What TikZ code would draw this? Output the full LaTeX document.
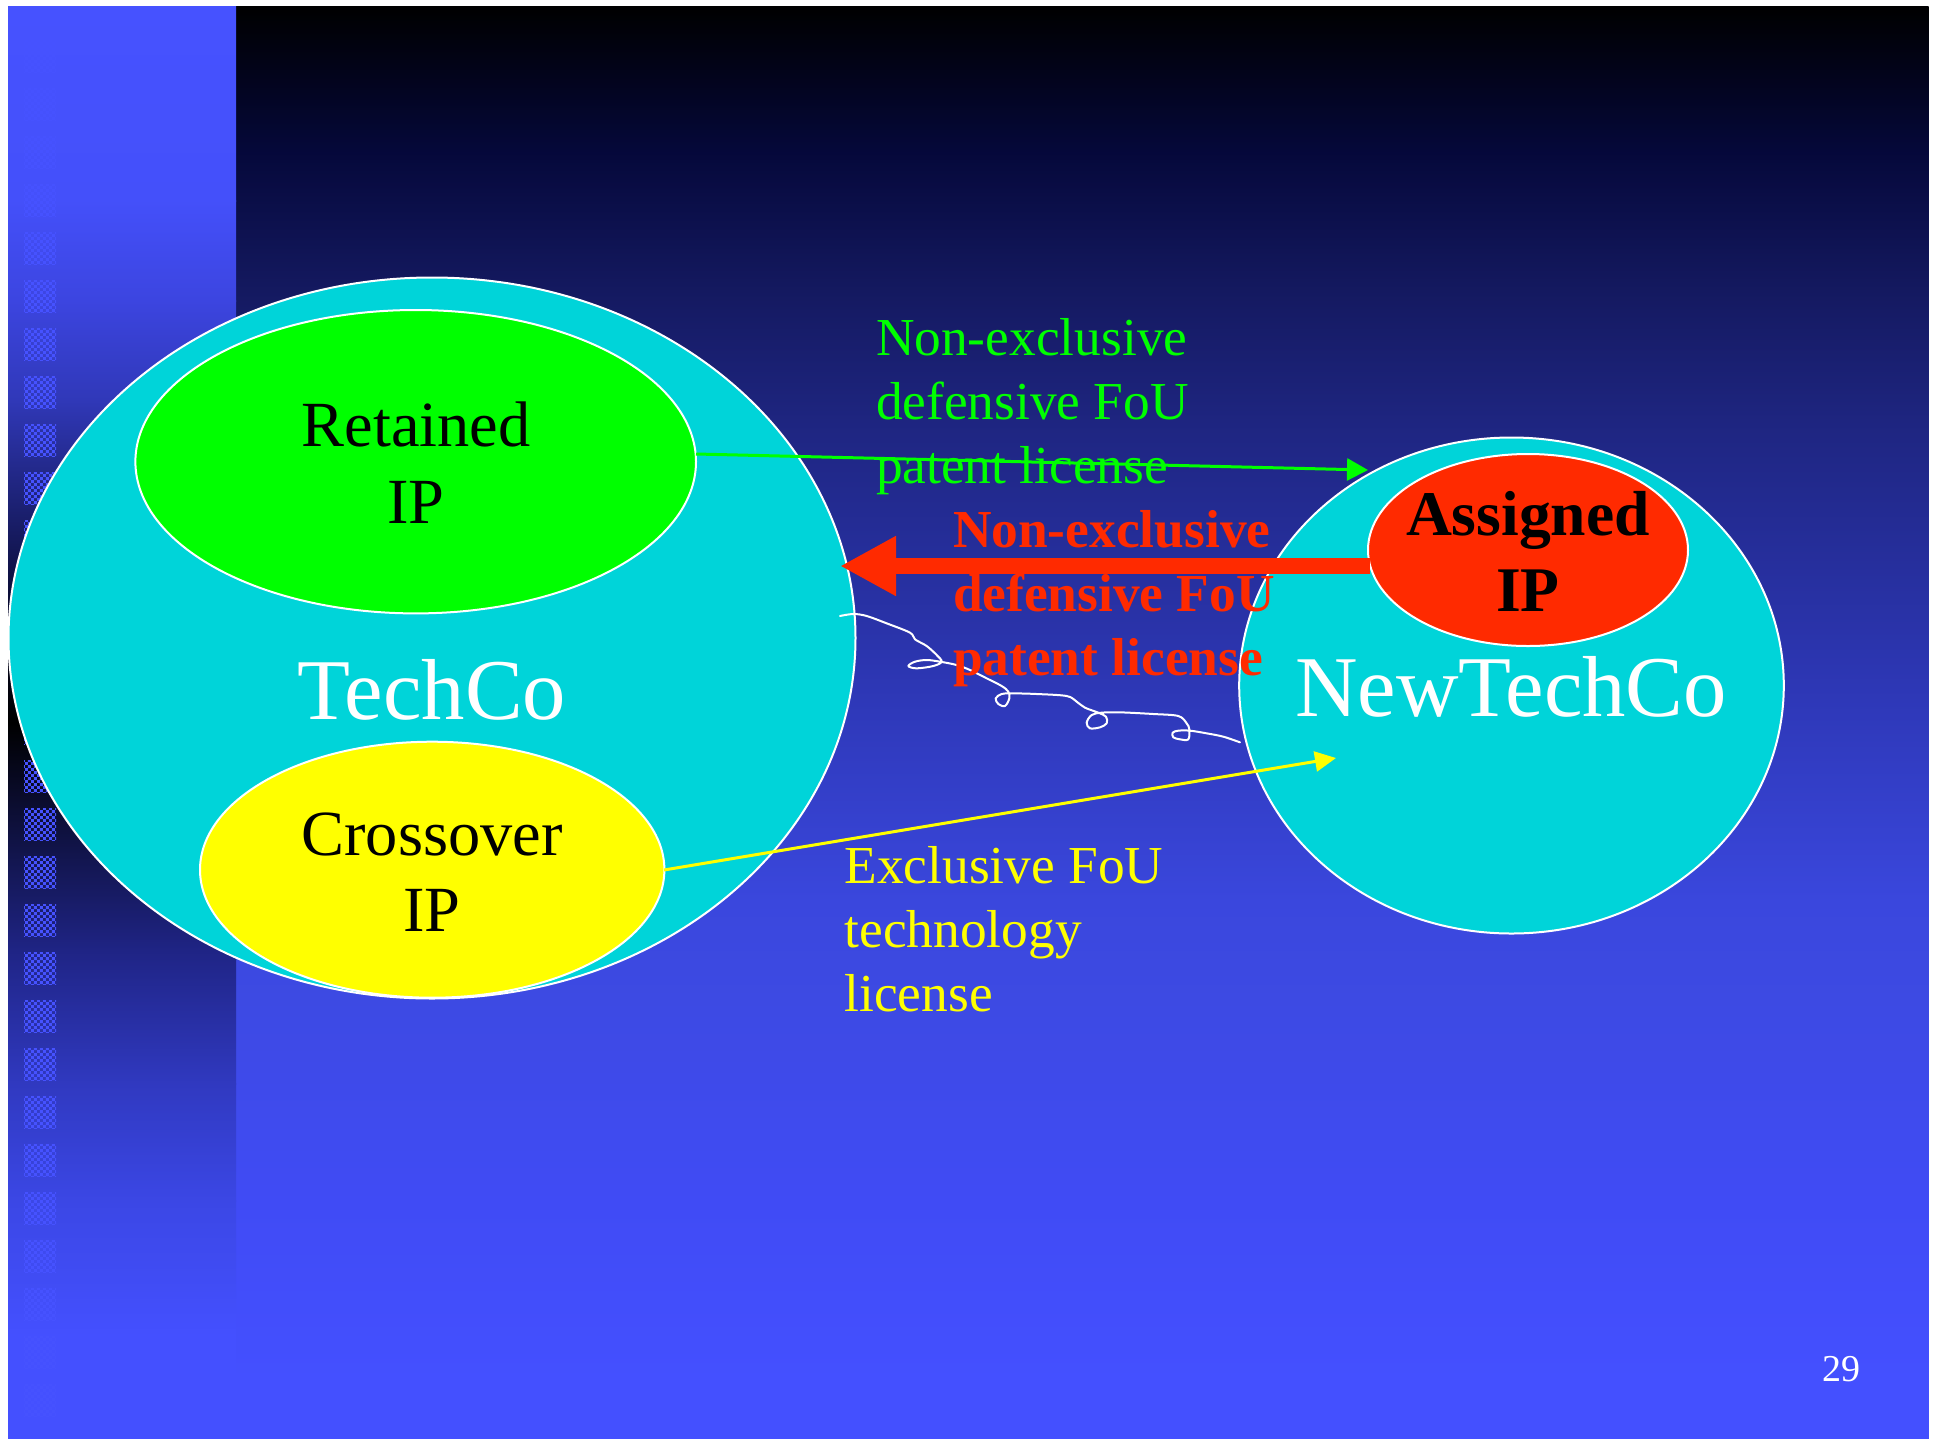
\documentclass[tikz,border=0pt]{standalone}
\usepackage{fontspec}
\setmainfont{Liberation Serif}
\usetikzlibrary{shapes.geometric,arrows.meta,patterns.meta}
\definecolor{cyanE}{HTML}{00D4D9}
\definecolor{grnE}{HTML}{00FF00}
\definecolor{ylwE}{HTML}{FFFF00}
\definecolor{redE}{HTML}{FF2A00}
\definecolor{chkc}{HTML}{4652FF}
% main background stops
\definecolor{m0}{HTML}{000000}
\definecolor{m1}{HTML}{05083A}
\definecolor{m2}{HTML}{141960}
\definecolor{m3}{HTML}{1E2580}
\definecolor{m4}{HTML}{2E38B8}
\definecolor{m5}{HTML}{3A47DD}
\definecolor{m6}{HTML}{3D4AE3}
\definecolor{m7}{HTML}{404BF5}
\definecolor{m8}{HTML}{4450FF}
% strip stops
\definecolor{s0}{HTML}{4652FF}
\definecolor{s1}{HTML}{4450FA}
\definecolor{s2}{HTML}{3C45E0}
\definecolor{s3}{HTML}{3038B8}
\definecolor{s4}{HTML}{0A0C34}
\definecolor{s5}{HTML}{000000}
\definecolor{s6}{HTML}{1F2485}
\definecolor{s7}{HTML}{3039C0}
\definecolor{s8}{HTML}{3B47E5}
\definecolor{s9}{HTML}{4450FF}
\tikzdeclarepattern{
  name=chk,
  type=uncolored,
  bottom left={(0pt,0pt)},
  top right={(3.2pt,3.2pt)},
  tile size={(3.2pt,3.2pt)},
  code={
    \fill (0pt,0pt) rectangle (1.6pt,1.6pt);
    \fill (1.6pt,1.6pt) rectangle (3.2pt,3.2pt);
  }
}
\tikzset{
  blob/.style={ellipse, draw=white, line width=1pt, inner sep=0pt, outer sep=0pt},
  lbl/.style={anchor=base, inner sep=0pt, outer sep=0pt},
  lblw/.style={anchor=base west, inner sep=0pt, outer sep=0pt},
  ipfont/.style={font=\fontsize{32.2}{38}\selectfont},
  ipbold/.style={font=\fontsize{31.8}{38}\selectfont\bfseries},
  bigfont/.style={font=\fontsize{43.3}{50}\selectfont},
  smfont/.style={font=\fontsize{26.7}{32}\selectfont},
  smbold/.style={font=\fontsize{26.7}{32}\selectfont\bfseries},
}
\begin{document}
\begin{tikzpicture}[x=0.5pt,y=-0.5pt]
\useasboundingbox (0,0) rectangle (1933,1441);
\fill[white] (0,0) rectangle (1933,1441);
% main background gradient
\foreach \ya/\yb/\ca/\cb in {6/151/m0/m1,150/291/m1/m2,290/421/m2/m3,420/701/m3/m4,700/901/m4/m5,900/1001/m5/m6,1000/1201/m6/m7,1200/1381/m7/m8}
  \shade[top color=\ca,bottom color=\cb] (235.5,\ya) rectangle (1928.5,\yb);
\fill[m8] (235.5,1380) rectangle (1928.5,1439);
% left strip gradient
\foreach \ya/\yb/\ca/\cb in {6/201/s0/s1,200/301/s1/s2,300/401/s2/s3,400/601/s3/s4,600/723/s4/s5,722/951/s5/s6,950/1084/s6/s7,1083/1201/s7/s8,1200/1336/s8/s9}
  \shade[top color=\ca,bottom color=\cb] (8,\ya) rectangle (236,\yb);
\fill[s9] (8,1335) rectangle (236,1439);
% checkered squares
\foreach \k in {0,...,28}
  \fill[pattern=chk, pattern color=chkc] (24,{40+48*\k}) rectangle (56,{72+48*\k});
% ellipses
\node[blob, fill=cyanE, minimum width=423.5pt, minimum height=360.5pt] (techco) at (432,638) {};
\node[blob, fill=grnE, minimum width=280.3pt, minimum height=151.7pt] (retained) at (415.7,461.7) {};
\node[blob, fill=ylwE, minimum width=232.2pt, minimum height=128pt] (crossover) at (432.2,869.7) {};
\node[blob, fill=cyanE, minimum width=272.3pt, minimum height=248pt] (newtechco) at (1511.5,685.5) {};
\node[blob, fill=redE, minimum width=160pt, minimum height=96pt] (assigned) at (1528,550) {};
% ellipse labels
\node[lbl, ipfont] (tRet1) at (416,446.7) {Retained};
\node[lbl, ipfont] (tRet2) at (416,523) {IP};
\node[lbl, bigfont, text=white] (tTech) at (432,719) {TechCo};
\node[lbl, ipfont] (tCro1) at (432,855) {Crossover};
\node[lbl, ipfont] (tCro2) at (432,931.7) {IP};
\node[lbl, bigfont, text=white] (tNew) at (1511,716.7) {NewTechCo};
\node[lbl, ipbold] (tAss1) at (1528,535) {Assigned};
\node[lbl, ipbold] (tAss2) at (1528,611.7) {IP};
% white squiggle
\begin{scope}[shift={(820,580)},scale=1/3]
\draw[white, line width=1pt, line cap=round, line join=round] plot[smooth, tension=0.55] coordinates {
(60,108) (100,102) (140,108) (200,130) (270,158) (285,178) (320,198) (350,225) (365,245)
(340,258) (290,265) (265,258) (285,245) (320,240) (360,245) (410,255) (450,270) (500,295) (545,318) (565,335)
(568,355) (555,378) (535,372) (527,355) (545,342) (575,340) (650,342) (740,348) (770,365) (795,383) (835,398)
(858,410) (860,430) (840,442) (810,445) (800,428) (815,405) (845,398) (900,397) (1000,402) (1075,408) (1100,430) (1108,448)
(1105,478) (1080,478) (1060,472) (1058,458) (1075,452) (1110,452) (1160,460) (1210,470) (1260,487)};
\end{scope}
% green label
\node[lblw, smfont, text=grnE] (g1) at (876,355) {Non-exclusive};
\node[lblw, smfont, text=grnE] (g2) at (876,419) {defensive FoU};
\node[lblw, smfont, text=grnE] (g3) at (876,483) {patent license};
% red label
\node[lblw, smbold, text=redE] (r1) at (953,547) {Non-exclusive};
\node[lblw, smbold, text=redE] (r2) at (953,611) {defensive FoU};
\node[lblw, smbold, text=redE] (r3) at (953,675) {patent license};
% yellow label
\node[lblw, smfont, text=ylwE] (y1) at (844.5,883) {Exclusive FoU};
\node[lblw, smfont, text=ylwE] (y2) at (844.5,947) {technology};
\node[lblw, smfont, text=ylwE] (y3) at (844.5,1011) {license};
% arrows
\coordinate (gS) at (696,454);
\coordinate (gE) at (1368,470);
\draw[grnE, line width=1.5pt, -{Triangle[length=10.5pt,width=11pt]}] (gS) -- (gE);
\coordinate (rS) at (1370,566);
\coordinate (rE) at (840,566);
\draw[redE, line width=8pt, -{Triangle[length=28pt,width=28pt]}] (rS) -- (rE);
\coordinate (yS) at (664,870);
\coordinate (yE) at (1336,758);
\draw[ylwE, line width=1.5pt, -{Triangle[length=10.5pt,width=10pt]}] (yS) -- (yE);
% page number
\node[lbl, font=\fontsize{19}{22}\selectfont, text=white] (pnum) at (1841,1381) {29};
\end{tikzpicture}
\end{document}
